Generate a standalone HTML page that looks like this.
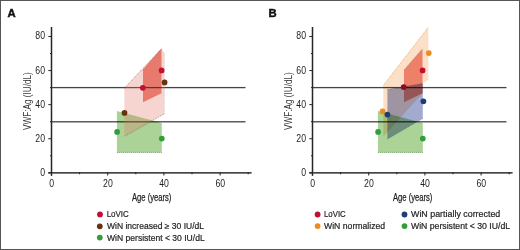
<!DOCTYPE html>
<html><head><meta charset="utf-8"><style>
html,body{margin:0;padding:0;background:#fff;}
body{width:520px;height:250px;overflow:hidden;position:relative;}
.f{position:absolute;left:0;top:0;width:518px;height:248px;border:1px solid #555;}
svg{position:absolute;left:0;top:0;font-family:"Liberation Sans", sans-serif;}
</style></head><body>
<svg width="520" height="250" viewBox="0 0 520 250">
<rect x="0" y="0" width="520" height="250" fill="#fff"/><rect x="51" y="86.95" width="194.5" height="1.3" fill="#444"/><rect x="51" y="121.15" width="194.5" height="1.3" fill="#444"/><rect x="312" y="86.95" width="194.5" height="1.3" fill="#444"/><rect x="312" y="121.15" width="194.5" height="1.3" fill="#444"/><polygon points="116.90,110.90 161.80,123.00 161.80,152.40 116.90,152.40" fill="rgb(171,211,151)" style="mix-blend-mode:multiply"/><polygon points="124.30,88.30 161.50,48.60 164.40,53.00 164.40,113.80 124.30,136.50" fill="rgb(225,115,98)" fill-opacity="0.3"/><polygon points="143.00,70.00 161.50,48.80 161.50,93.20 143.00,102.20" fill="rgb(240,146,134)" style="mix-blend-mode:multiply"/><polygon points="377.90,110.90 422.80,123.00 422.80,152.40 377.90,152.40" fill="rgb(171,211,151)" style="mix-blend-mode:multiply"/><polygon points="404.00,70.00 422.50,48.80 422.50,93.20 404.00,102.20" fill="rgb(240,146,134)" style="mix-blend-mode:multiply"/><polygon points="383.30,85.50 428.30,27.20 428.30,79.20 423.40,82.40 423.00,92.80 383.30,136.80" fill="rgb(251,224,199)" style="mix-blend-mode:multiply"/><polygon points="387.40,89.60 422.80,83.40 422.80,118.50 387.40,139.00" fill="rgb(162,170,208)" style="mix-blend-mode:multiply"/><line x1="124.30" y1="88.30" x2="161.50" y2="48.60" stroke="#b83a3a" stroke-opacity="0.75" stroke-width="0.8" stroke-dasharray="1 1"/><line x1="164.40" y1="53.00" x2="164.40" y2="113.80" stroke="#c05050" stroke-opacity="0.25" stroke-width="0.8" stroke-dasharray="1 1"/><line x1="164.40" y1="113.80" x2="124.30" y2="136.50" stroke="#8a3a30" stroke-opacity="0.7" stroke-width="0.8" stroke-dasharray="1 1"/><line x1="143.00" y1="70.00" x2="161.50" y2="48.80" stroke="#a02828" stroke-opacity="0.7" stroke-width="0.8" stroke-dasharray="1 1"/><line x1="161.80" y1="152.40" x2="116.90" y2="152.40" stroke="#3a6a30" stroke-opacity="0.8" stroke-width="0.8" stroke-dasharray="1 1"/><line x1="422.80" y1="152.40" x2="377.90" y2="152.40" stroke="#3a6a30" stroke-opacity="0.8" stroke-width="0.8" stroke-dasharray="1 1"/><line x1="404.00" y1="70.00" x2="422.50" y2="48.80" stroke="#a03030" stroke-opacity="0.5" stroke-width="0.8" stroke-dasharray="1 1"/><line x1="383.30" y1="85.50" x2="428.30" y2="27.20" stroke="#eda56a" stroke-opacity="0.75" stroke-width="1.0" stroke-dasharray="1.2 0.6"/><line x1="428.30" y1="79.20" x2="423.40" y2="82.40" stroke="#d89060" stroke-opacity="0.5" stroke-width="0.8" stroke-dasharray="1 1"/><line x1="387.40" y1="89.60" x2="422.80" y2="83.40" stroke="#404a80" stroke-opacity="0.6" stroke-width="0.8" stroke-dasharray="1 1"/><line x1="422.80" y1="118.50" x2="387.40" y2="139.00" stroke="#2a4a50" stroke-opacity="0.6" stroke-width="0.8" stroke-dasharray="1 1"/><rect x="50.75" y="27" width="1.5" height="148.8" fill="#262626"/><rect x="48.3" y="172" width="203.3" height="1.7" fill="#464646"/><rect x="48.3" y="172.30" width="3" height="1" fill="#262626"/><rect x="48.3" y="138.22" width="3" height="1" fill="#262626"/><rect x="48.3" y="104.14" width="3" height="1" fill="#262626"/><rect x="48.3" y="70.06" width="3" height="1" fill="#262626"/><rect x="48.3" y="35.98" width="3" height="1" fill="#262626"/><rect x="50.0" y="155.26" width="1.5" height="1" fill="#262626"/><rect x="50.0" y="121.18" width="1.5" height="1" fill="#262626"/><rect x="50.0" y="87.10" width="1.5" height="1" fill="#262626"/><rect x="50.0" y="53.02" width="1.5" height="1" fill="#262626"/><rect x="51.00" y="172" width="1" height="3.5" fill="#262626"/><rect x="107.20" y="172" width="1" height="3.5" fill="#262626"/><rect x="163.40" y="172" width="1" height="3.5" fill="#262626"/><rect x="219.60" y="172" width="1" height="3.5" fill="#262626"/><rect x="79.10" y="172" width="1" height="2.3" fill="#262626"/><rect x="135.30" y="172" width="1" height="2.3" fill="#262626"/><rect x="191.50" y="172" width="1" height="2.3" fill="#262626"/><rect x="247.70" y="172" width="1" height="2.3" fill="#262626"/><text x="40.16" y="175.80" font-size="10.0" fill="#1f1f1f" textLength="4.84" lengthAdjust="spacingAndGlyphs">0</text><text x="35.32" y="141.72" font-size="10.0" fill="#1f1f1f" textLength="9.68" lengthAdjust="spacingAndGlyphs">20</text><text x="35.32" y="107.64" font-size="10.0" fill="#1f1f1f" textLength="9.68" lengthAdjust="spacingAndGlyphs">40</text><text x="35.32" y="73.56" font-size="10.0" fill="#1f1f1f" textLength="9.68" lengthAdjust="spacingAndGlyphs">60</text><text x="35.32" y="39.48" font-size="10.0" fill="#1f1f1f" textLength="9.68" lengthAdjust="spacingAndGlyphs">80</text><text x="49.28" y="186.90" font-size="10.0" fill="#1f1f1f" textLength="4.84" lengthAdjust="spacingAndGlyphs">0</text><text x="103.06" y="186.90" font-size="10.0" fill="#1f1f1f" textLength="9.68" lengthAdjust="spacingAndGlyphs">20</text><text x="159.26" y="186.90" font-size="10.0" fill="#1f1f1f" textLength="9.68" lengthAdjust="spacingAndGlyphs">40</text><text x="215.46" y="186.90" font-size="10.0" fill="#1f1f1f" textLength="9.68" lengthAdjust="spacingAndGlyphs">60</text><text x="132.0" y="200.6" font-size="10.2" fill="#1f1f1f" stroke="#1f1f1f" stroke-width="0.25" textLength="39.4" lengthAdjust="spacingAndGlyphs">Age (years)</text><text transform="translate(30.6,130.0) rotate(-90)" x="0" y="0" font-size="10.2" fill="#3a3a3a" textLength="57.8" lengthAdjust="spacingAndGlyphs">VWF:Ag (IU/dL)</text><rect x="311.75" y="27" width="1.5" height="148.8" fill="#262626"/><rect x="309.3" y="172" width="203.3" height="1.7" fill="#464646"/><rect x="309.3" y="172.30" width="3" height="1" fill="#262626"/><rect x="309.3" y="138.22" width="3" height="1" fill="#262626"/><rect x="309.3" y="104.14" width="3" height="1" fill="#262626"/><rect x="309.3" y="70.06" width="3" height="1" fill="#262626"/><rect x="309.3" y="35.98" width="3" height="1" fill="#262626"/><rect x="311.0" y="155.26" width="1.5" height="1" fill="#262626"/><rect x="311.0" y="121.18" width="1.5" height="1" fill="#262626"/><rect x="311.0" y="87.10" width="1.5" height="1" fill="#262626"/><rect x="311.0" y="53.02" width="1.5" height="1" fill="#262626"/><rect x="312.00" y="172" width="1" height="3.5" fill="#262626"/><rect x="368.20" y="172" width="1" height="3.5" fill="#262626"/><rect x="424.40" y="172" width="1" height="3.5" fill="#262626"/><rect x="480.60" y="172" width="1" height="3.5" fill="#262626"/><rect x="340.10" y="172" width="1" height="2.3" fill="#262626"/><rect x="396.30" y="172" width="1" height="2.3" fill="#262626"/><rect x="452.50" y="172" width="1" height="2.3" fill="#262626"/><rect x="508.70" y="172" width="1" height="2.3" fill="#262626"/><text x="301.16" y="175.80" font-size="10.0" fill="#1f1f1f" textLength="4.84" lengthAdjust="spacingAndGlyphs">0</text><text x="296.32" y="141.72" font-size="10.0" fill="#1f1f1f" textLength="9.68" lengthAdjust="spacingAndGlyphs">20</text><text x="296.32" y="107.64" font-size="10.0" fill="#1f1f1f" textLength="9.68" lengthAdjust="spacingAndGlyphs">40</text><text x="296.32" y="73.56" font-size="10.0" fill="#1f1f1f" textLength="9.68" lengthAdjust="spacingAndGlyphs">60</text><text x="296.32" y="39.48" font-size="10.0" fill="#1f1f1f" textLength="9.68" lengthAdjust="spacingAndGlyphs">80</text><text x="310.28" y="186.90" font-size="10.0" fill="#1f1f1f" textLength="4.84" lengthAdjust="spacingAndGlyphs">0</text><text x="364.06" y="186.90" font-size="10.0" fill="#1f1f1f" textLength="9.68" lengthAdjust="spacingAndGlyphs">20</text><text x="420.26" y="186.90" font-size="10.0" fill="#1f1f1f" textLength="9.68" lengthAdjust="spacingAndGlyphs">40</text><text x="476.46" y="186.90" font-size="10.0" fill="#1f1f1f" textLength="9.68" lengthAdjust="spacingAndGlyphs">60</text><text x="393.0" y="200.6" font-size="10.2" fill="#1f1f1f" stroke="#1f1f1f" stroke-width="0.25" textLength="39.4" lengthAdjust="spacingAndGlyphs">Age (years)</text><text transform="translate(291.6,130.0) rotate(-90)" x="0" y="0" font-size="10.2" fill="#3a3a3a" textLength="57.8" lengthAdjust="spacingAndGlyphs">VWF:Ag (IU/dL)</text><circle cx="142.80" cy="87.80" r="2.85" fill="#c20f33"/><circle cx="161.60" cy="70.40" r="2.85" fill="#c20f33"/><circle cx="124.50" cy="112.90" r="2.85" fill="#66320f"/><circle cx="164.60" cy="82.40" r="2.85" fill="#66320f"/><circle cx="117.10" cy="131.90" r="2.85" fill="#2f9e3b"/><circle cx="161.80" cy="138.60" r="2.85" fill="#2f9e3b"/><circle cx="403.70" cy="87.10" r="2.85" fill="#8e0c22"/><circle cx="422.60" cy="70.40" r="2.85" fill="#c20f33"/><circle cx="382.60" cy="111.40" r="2.85" fill="#ef8c1f"/><circle cx="428.80" cy="53.10" r="2.85" fill="#ef8c1f"/><circle cx="387.40" cy="114.60" r="2.85" fill="#1b3d7a"/><circle cx="423.40" cy="101.30" r="2.85" fill="#1b3d7a"/><circle cx="378.10" cy="131.90" r="2.85" fill="#2f9e3b"/><circle cx="422.80" cy="138.60" r="2.85" fill="#2f9e3b"/><text x="7.6" y="16.9" font-size="11.3" font-weight="bold" fill="#111" stroke="#111" stroke-width="0.45">A</text><text x="268.5" y="16.9" font-size="11.3" font-weight="bold" fill="#111" stroke="#111" stroke-width="0.45">B</text><circle cx="100.00" cy="214.40" r="2.9" fill="#c20f33"/><text x="106.7" y="217.10" font-size="8.7" fill="#1f1f1f" stroke="#1f1f1f" stroke-width="0.2" textLength="22.1" lengthAdjust="spacingAndGlyphs">LoVIC</text><circle cx="99.80" cy="226.30" r="2.9" fill="#66320f"/><text x="107.0" y="229.00" font-size="8.7" fill="#1f1f1f" stroke="#1f1f1f" stroke-width="0.2" textLength="97" lengthAdjust="spacingAndGlyphs">WiN increased &#8805; 30 IU/dL</text><circle cx="99.80" cy="237.60" r="2.9" fill="#2f9e3b"/><text x="107.0" y="240.50" font-size="8.7" fill="#1f1f1f" stroke="#1f1f1f" stroke-width="0.2" textLength="97.7" lengthAdjust="spacingAndGlyphs">WiN persistent &lt; 30 IU/dL</text><circle cx="317.60" cy="214.50" r="2.9" fill="#c20f33"/><text x="324" y="216.80" font-size="8.7" fill="#1f1f1f" stroke="#1f1f1f" stroke-width="0.2" textLength="21.7" lengthAdjust="spacingAndGlyphs">LoVIC</text><circle cx="317.60" cy="226.10" r="2.9" fill="#ef8c1f"/><text x="324" y="228.60" font-size="8.7" fill="#1f1f1f" stroke="#1f1f1f" stroke-width="0.2" textLength="61.1" lengthAdjust="spacingAndGlyphs">WiN normalized</text><circle cx="404.50" cy="214.50" r="2.9" fill="#1b3d7a"/><text x="411" y="216.90" font-size="8.7" fill="#1f1f1f" stroke="#1f1f1f" stroke-width="0.2" textLength="89.3" lengthAdjust="spacingAndGlyphs">WiN partially corrected</text><circle cx="404.50" cy="226.10" r="2.9" fill="#2f9e3b"/><text x="411" y="228.60" font-size="8.7" fill="#1f1f1f" stroke="#1f1f1f" stroke-width="0.2" textLength="99.1" lengthAdjust="spacingAndGlyphs">WiN persistent &lt; 30 IU/dL</text>
</svg>
<div class="f"></div>
</body></html>
